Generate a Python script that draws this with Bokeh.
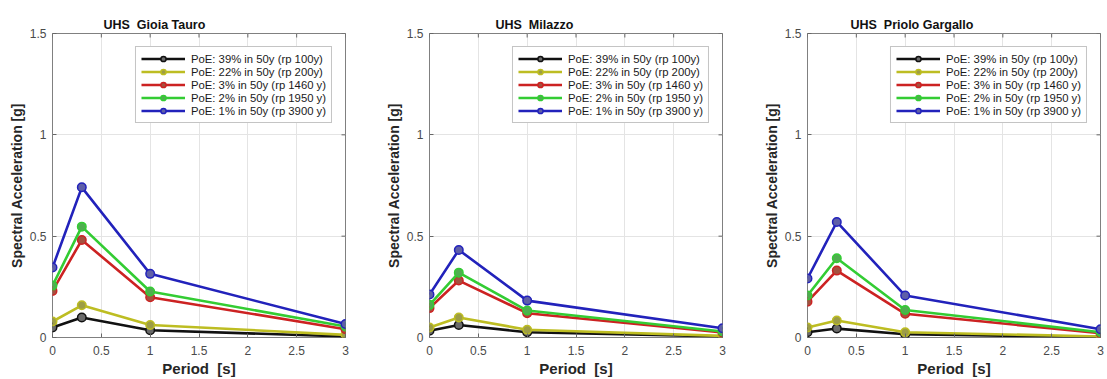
import math

from bokeh.plotting import figure
from bokeh.models import Range1d, Legend, LegendItem, PrintfTickFormatter, FixedTicker
from bokeh.layouts import row
from bokeh.embed import file_html
from bokeh.resources import INLINE

# Uniform hazard spectra: spectral acceleration [g] at four periods [s]
periods = [0.0, 0.3, 1.0, 3.0]
site_names = ["Gioia Tauro", "Milazzo", "Priolo Gargallo"]
poe_labels = [
    "PoE: 39% in 50y (rp 100y)",
    "PoE: 22% in 50y (rp 200y)",
    "PoE: 3% in 50y (rp 1460 y)",
    "PoE: 2% in 50y (rp 1950 y)",
    "PoE: 1% in 50y (rp 3900 y)",
]

# one row per return period, in the order of poe_labels
sa_gioia_tauro = [
    [0.049, 0.099, 0.036, 0.005],
    [0.079, 0.159, 0.062, 0.013],
    [0.230, 0.481, 0.199, 0.041],
    [0.256, 0.547, 0.227, 0.054],
    [0.345, 0.741, 0.314, 0.067],
]
sa_milazzo = [
    [0.033, 0.062, 0.026, 0.005],
    [0.049, 0.099, 0.038, 0.008],
    [0.145, 0.281, 0.120, 0.025],
    [0.161, 0.320, 0.133, 0.030],
    [0.212, 0.432, 0.182, 0.046],
]
sa_priolo_gargallo = [
    [0.026, 0.044, 0.016, 0.002],
    [0.049, 0.084, 0.026, 0.005],
    [0.177, 0.330, 0.117, 0.021],
    [0.207, 0.391, 0.136, 0.026],
    [0.291, 0.570, 0.207, 0.041],
]
site_values = [sa_gioia_tauro, sa_milazzo, sa_priolo_gargallo]

x_ticks = [0, 0.5, 1, 1.5, 2, 2.5, 3]
y_ticks = [0, 0.5, 1, 1.5]
X_MAX = 3
Y_MAX = 1.5

# styling
line_colors = ["#111111", "#bdbd22", "#cc2222", "#33cc33", "#2222bb"]
fill_colors = ["#6a6a6a", "#9d9d45", "#a5503f", "#4fae4f", "#5f5fa8"]
FONT = "Liberation Sans"
NBSP = "\u00a0"
TICK_COLOR = "#666666"
border_left = [52, 60, 69]
border_right = [24, 16, 7]
title_offset = [51, 66, 43]
PLOT_W = 293


def make_panel(i):
    p = figure(
        width=border_left[i] + PLOT_W + border_right[i], height=379,
        x_range=Range1d(0, X_MAX), y_range=Range1d(0, Y_MAX),
        output_backend="svg", toolbar_location=None,
        min_border_left=border_left[i], min_border_right=border_right[i],
        min_border_top=33, min_border_bottom=42,
        title="UHS" + NBSP + " " + site_names[i],
    )
    p.title.align = "left"
    p.title.offset = title_offset[i]
    p.title.standoff = 3
    p.title.text_font = FONT
    p.title.text_font_size = "12.5px"
    p.title.text_font_style = "bold"
    p.title.text_color = "#111111"

    p.outline_line_color = "#808080"
    p.outline_line_width = 1
    p.xgrid.ticker = FixedTicker(ticks=x_ticks)
    p.ygrid.ticker = FixedTicker(ticks=y_ticks)
    p.xgrid.grid_line_color = "#e4e4e4"
    p.ygrid.grid_line_color = "#e4e4e4"

    p.xaxis.ticker = FixedTicker(ticks=x_ticks)
    p.yaxis.ticker = FixedTicker(ticks=y_ticks)
    for ax in p.xaxis + p.yaxis:
        ax.major_tick_in = 4
        ax.major_tick_out = 0
        ax.minor_tick_line_color = None
        ax.major_tick_line_color = TICK_COLOR
        ax.axis_line_color = None
        ax.formatter = PrintfTickFormatter(format="%g")
        ax.major_label_text_font = FONT
        ax.major_label_text_font_size = "12px"
        ax.major_label_text_color = "#4a4a4a"
        ax.axis_label_text_font = FONT
        ax.axis_label_text_font_style = "bold"
        ax.axis_label_text_color = "#262626"
        ax.axis_label_standoff = 2
    p.xaxis.major_label_standoff = 8
    p.yaxis.major_label_standoff = 6
    p.xaxis.axis_label = "Period" + NBSP + " [s]"
    p.yaxis.axis_label = "Spectral Acceleration [g]"
    p.xaxis.axis_label_text_font_size = "15px"
    p.yaxis.axis_label_text_font_size = "14px"

    # inward tick marks on the top and right edges of the box
    # (dash markers centred on the edge; the frame clips the outer half)
    p.scatter(x_ticks, [Y_MAX] * len(x_ticks), marker="dash", size=8,
              angle=math.pi / 2, line_color=TICK_COLOR, line_width=1)
    p.scatter([X_MAX] * len(y_ticks), y_ticks, marker="dash", size=8,
              line_color=TICK_COLOR, line_width=1)

    items = []
    for k, vals in enumerate(site_values[i]):
        ln = p.line(periods, vals, line_color=line_colors[k], line_width=2.6)
        sc = p.scatter(periods, vals, marker="circle", size=8.5,
                       line_color=line_colors[k], line_width=1.5,
                       fill_color=fill_colors[k])
        items.append(LegendItem(label=poe_labels[k], renderers=[ln, sc]))

    legend = Legend(items=items, location="top_right")
    legend.margin = 13
    legend.padding = 5
    legend.spacing = 0
    legend.glyph_width = 44
    legend.glyph_height = 13
    legend.label_height = 13
    legend.label_standoff = 6
    legend.label_text_font = FONT
    legend.label_text_font_size = "11.3px"
    legend.label_text_color = "#1a1a1a"
    legend.border_line_color = "#8a8a8a"
    legend.border_line_width = 1
    legend.background_fill_color = "white"
    legend.background_fill_alpha = 1
    p.add_layout(legend, "center")
    return p


panels = [make_panel(i) for i in range(3)]
layout = row(*panels, spacing=0)

open("out.html", "w").write(file_html(layout, INLINE))
